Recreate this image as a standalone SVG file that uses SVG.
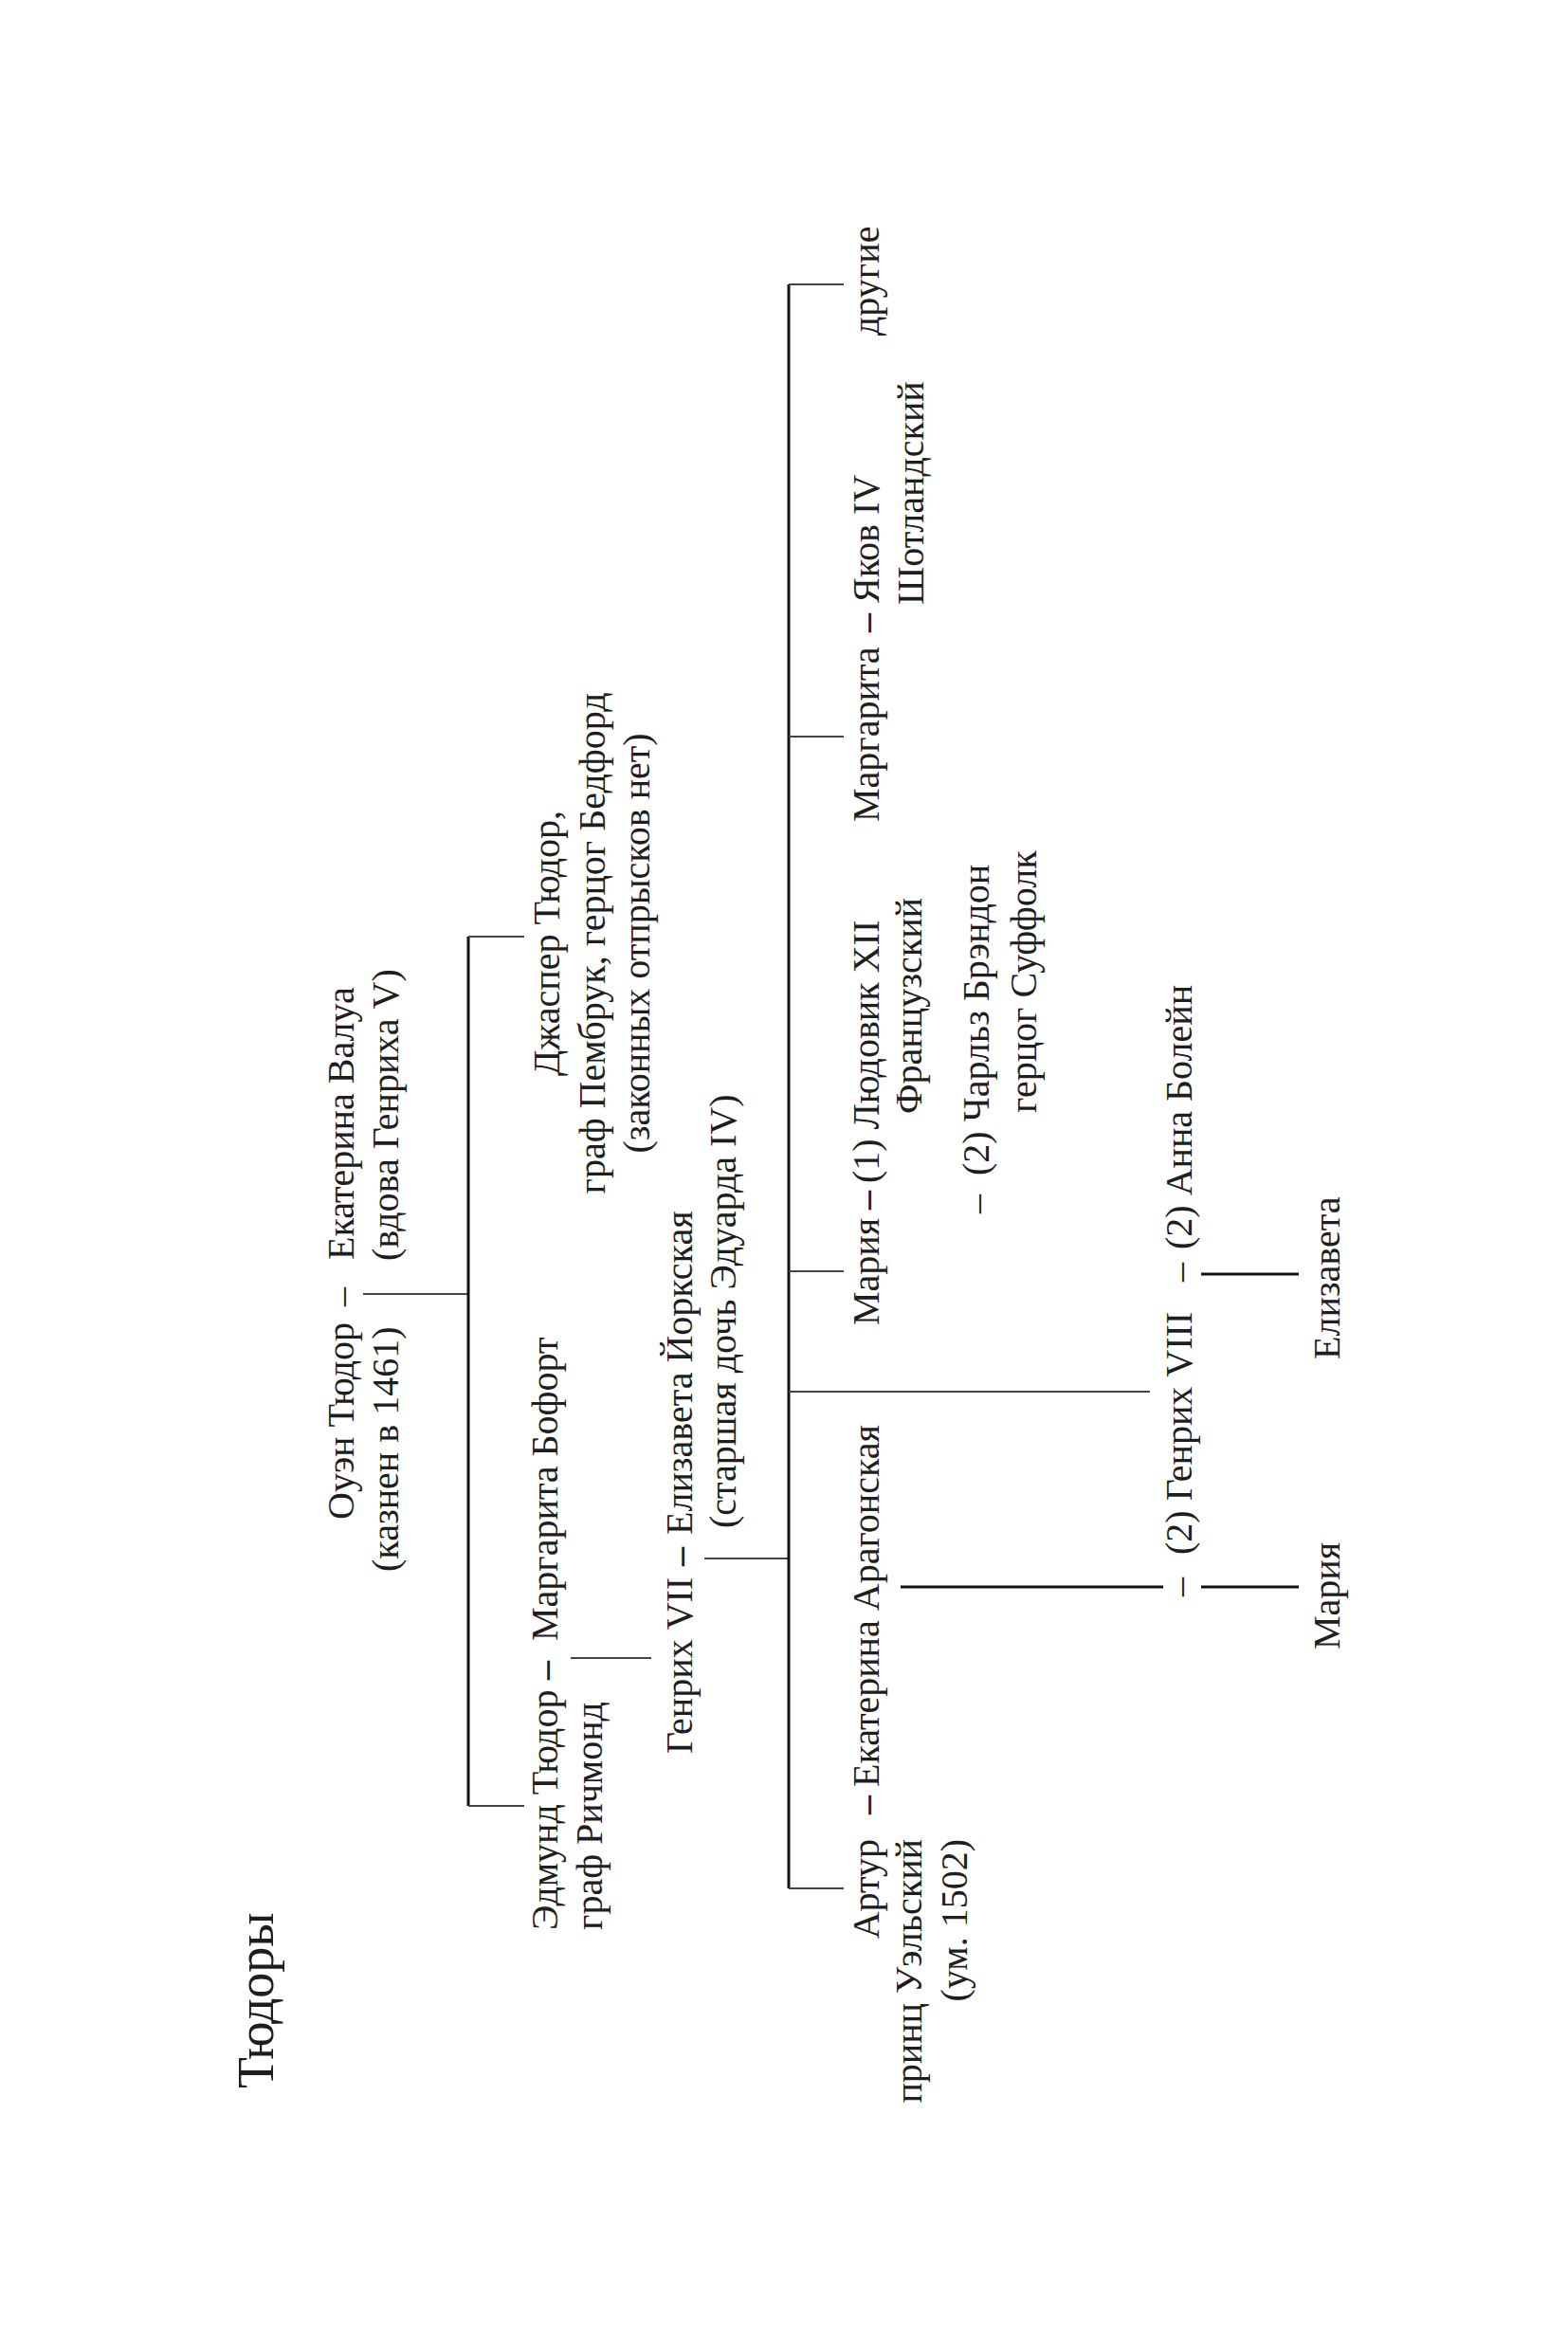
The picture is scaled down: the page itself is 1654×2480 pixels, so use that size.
<svg xmlns="http://www.w3.org/2000/svg" width="1654" height="2480" viewBox="0 0 1654 2480">
<style>
text{font-family:"Liberation Serif","Times New Roman",serif;font-size:40px;fill:#1e1e1e}
.title{font-size:54px}
.b{font-weight:bold}
.m{text-anchor:middle}
.e{text-anchor:end}
.spine{stroke:#111;stroke-width:3;fill:none}
.br{stroke:#444;stroke-width:2;fill:none}
.mk{stroke:#111;stroke-width:3;fill:none}
</style>
<rect width="1654" height="2480" fill="#fff"/>
<g id="connectors">
 <line class="br" x1="383" y1="1365" x2="494" y2="1365"/>
 <line class="spine" x1="494" y1="988" x2="494" y2="1905"/>
 <line class="br" x1="494" y1="988" x2="553" y2="988"/>
 <line class="br" x1="494" y1="1905" x2="553" y2="1905"/>
 <line class="br" x1="602" y1="1749" x2="687" y2="1749"/>
 <line class="br" x1="743" y1="1644" x2="832" y2="1644"/>
 <line class="spine" x1="832" y1="300" x2="832" y2="1992"/>
 <line class="br" x1="832" y1="300" x2="890" y2="300"/>
 <line class="br" x1="832" y1="777" x2="890" y2="777"/>
 <line class="br" x1="832" y1="1341" x2="890" y2="1341"/>
 <line class="br" x1="832" y1="1468" x2="1213" y2="1468"/>
 <line class="br" x1="832" y1="1992" x2="890" y2="1992"/>
 <line class="mk" x1="950" y1="1674" x2="1227" y2="1674"/>
 <line class="mk" x1="1267" y1="1674" x2="1370" y2="1674"/>
 <line class="mk" x1="1267" y1="1344" x2="1370" y2="1344"/>
</g>
<g id="title"><text class="title" transform="translate(288,2203) rotate(-90)">Тюдоры</text></g>
<g id="owen">
 <text transform="translate(373,1603) rotate(-90)">Оуэн Тюдор</text>
 <text transform="translate(373,1378) rotate(-90)">–</text>
 <text transform="translate(420,1658) rotate(-90)">(казнен в 1461)</text>
</g>
<g id="catherine-valois">
 <text transform="translate(373,1329) rotate(-90)">Екатерина Валуа</text>
 <text transform="translate(420,1330) rotate(-90)">(вдова Генриха V)</text>
</g>
<g id="jasper">
 <text class="m" transform="translate(590,995) rotate(-90)">Джаспер Тюдор,</text>
 <text class="m" transform="translate(638,995) rotate(-90)">граф Пембрук, герцог Бедфорд</text>
 <text class="m" transform="translate(685,995) rotate(-90)">(законных отпрысков нет)</text>
</g>
<g id="edmund">
 <text transform="translate(588,2036) rotate(-90)">Эдмунд Тюдор</text>
 <text class="b" transform="translate(588,1772) rotate(-90)">–</text>
 <text transform="translate(635,2036) rotate(-90)">граф Ричмонд</text>
</g>
<g id="margaret-beaufort">
 <text transform="translate(588,1731) rotate(-90)">Маргарита Бофорт</text>
</g>
<g id="henry7">
 <text transform="translate(730,1850) rotate(-90)">Генрих VII</text>
 <text class="b" transform="translate(730,1652) rotate(-90)">–</text>
</g>
<g id="elizabeth-york">
 <text transform="translate(730,1619) rotate(-90)">Елизавета Йоркская</text>
 <text transform="translate(776,1612) rotate(-90)">(старшая дочь Эдуарда IV)</text>
</g>
<g id="arthur">
 <text class="e" transform="translate(927,1940) rotate(-90)">Артур</text>
 <text class="b" transform="translate(927,1914) rotate(-90)">–</text>
 <text class="e" transform="translate(972,1940) rotate(-90)">принц Уэльский</text>
 <text class="e" transform="translate(1020,1940) rotate(-90)">(ум. 1502)</text>
</g>
<g id="catherine-aragon">
 <text transform="translate(927,1885) rotate(-90)">Екатерина Арагонская</text>
</g>
<g id="mary-tudor">
 <text transform="translate(927,1398) rotate(-90)">Мария</text>
 <text class="b" transform="translate(927,1276) rotate(-90)">–</text>
</g>
<g id="louis12">
 <text transform="translate(927,1248) rotate(-90)">(1) Людовик XII</text>
 <text transform="translate(972,1175) rotate(-90)">Французский</text>
</g>
<g id="charles-brandon">
 <text transform="translate(1043,1280) rotate(-90)">–</text>
 <text transform="translate(1043,1240) rotate(-90)">(2) Чарльз Брэндон</text>
 <text transform="translate(1093,1174) rotate(-90)">герцог Суффолк</text>
</g>
<g id="margaret-tudor">
 <text transform="translate(927,867) rotate(-90)">Маргарита</text>
 <text class="b" transform="translate(927,667) rotate(-90)">–</text>
</g>
<g id="james4">
 <text transform="translate(927,636) rotate(-90)">Яков IV</text>
 <text transform="translate(974,638) rotate(-90)">Шотландский</text>
</g>
<g id="others"><text transform="translate(927,354) rotate(-90)">другие</text></g>
<g id="henry8">
 <text transform="translate(1257,1684) rotate(-90)">–</text>
 <text transform="translate(1257,1640) rotate(-90)">(2) Генрих VIII</text>
</g>
<g id="anne-boleyn">
 <text transform="translate(1257,1352) rotate(-90)">–</text>
 <text transform="translate(1257,1318) rotate(-90)">(2) Анна Болейн</text>
</g>
<g id="mary1"><text transform="translate(1413,1740) rotate(-90)">Мария</text></g>
<g id="elizabeth1"><text transform="translate(1413,1434) rotate(-90)">Елизавета</text></g>
</svg>
